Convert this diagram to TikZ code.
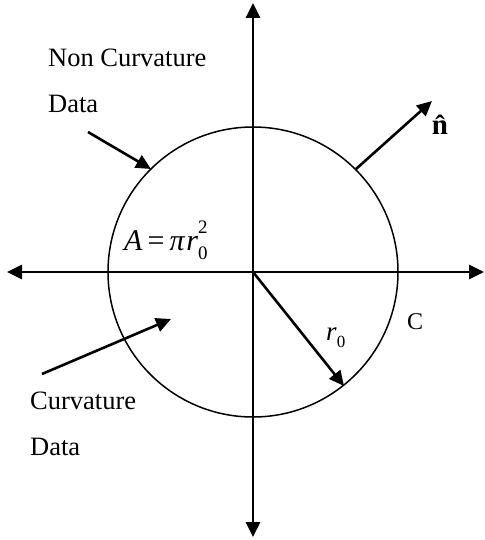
\documentclass[tikz,border=0pt]{standalone}
\usepackage{fontspec}
\setmainfont{Liberation Serif}
\usetikzlibrary{arrows.meta}
\begin{document}
\begin{tikzpicture}[x=1pt,y=-1pt,
  axisboth/.style={line width=2.6pt,{Triangle[length=15pt,width=14pt]}-{Triangle[length=15pt,width=14pt]}},
  pointer/.style={line width=2.6pt,-{Triangle[length=15pt,width=14pt]}},
  lbl/.style={anchor=base west,inner sep=0pt,font=\fontsize{26.5}{30}\selectfont},
  curve/.style={line width=1.5pt}]
\useasboundingbox (0,0) rectangle (484,540);
% coordinates
\coordinate (O) at (253,272);
\coordinate (L) at (7,272);
\coordinate (R) at (484,272);
\coordinate (T) at (253,3);
\coordinate (B) at (253,537);
% circle C
\draw[curve] (O) circle[radius=145];
% axes
\draw[axisboth] (L) -- (R);
\draw[axisboth] (T) -- (B);
% normal vector
\coordinate (Nstart) at (356,169);
\coordinate (Ntip) at (432,101);
\draw[pointer] (Nstart) -- (Ntip);
\node[anchor=base,inner sep=0pt,font=\fontsize{29}{30}\selectfont\bfseries] (nhat) at (440,135) {\^{n}};
% radius
\coordinate (Rtip) at (344,386);
\draw[pointer] (O) -- (Rtip);
\node[anchor=base west,inner sep=0pt,font=\fontsize{27}{30}\selectfont] (r0) at (326,340) {\textit{r}\raisebox{-0.28em}{\fontsize{17}{20}\selectfont 0}};
% C label
\node[anchor=base west,inner sep=0pt,font=\fontsize{24}{30}\selectfont] (C) at (407,329) {C};
% area
\node[anchor=base west,inner sep=0pt,font=\fontsize{30}{30}\selectfont] (area) at (124,250) {\textit{A}\,=\,\textit{π}\kern1pt\textit{r}\rlap{\raisebox{-0.3em}{\fontsize{19}{20}\selectfont 0}}\raisebox{0.55em}{\fontsize{19}{20}\selectfont 2}};
% Non curvature data
\node[lbl] (nc1) at (48,67) {Non Curvature};
\node[lbl] (nc2) at (48,113) {Data};
\coordinate (NCs) at (88,132);
\coordinate (NCt) at (151,169);
\draw[pointer] (NCs) -- (NCt);
% Curvature data
\node[lbl] (c1) at (30,409) {Curvature};
\node[lbl] (c2) at (30,455) {Data};
\coordinate (Cs) at (42,374);
\coordinate (Ct) at (171,319);
\draw[pointer] (Cs) -- (Ct);
\end{tikzpicture}
\end{document}
